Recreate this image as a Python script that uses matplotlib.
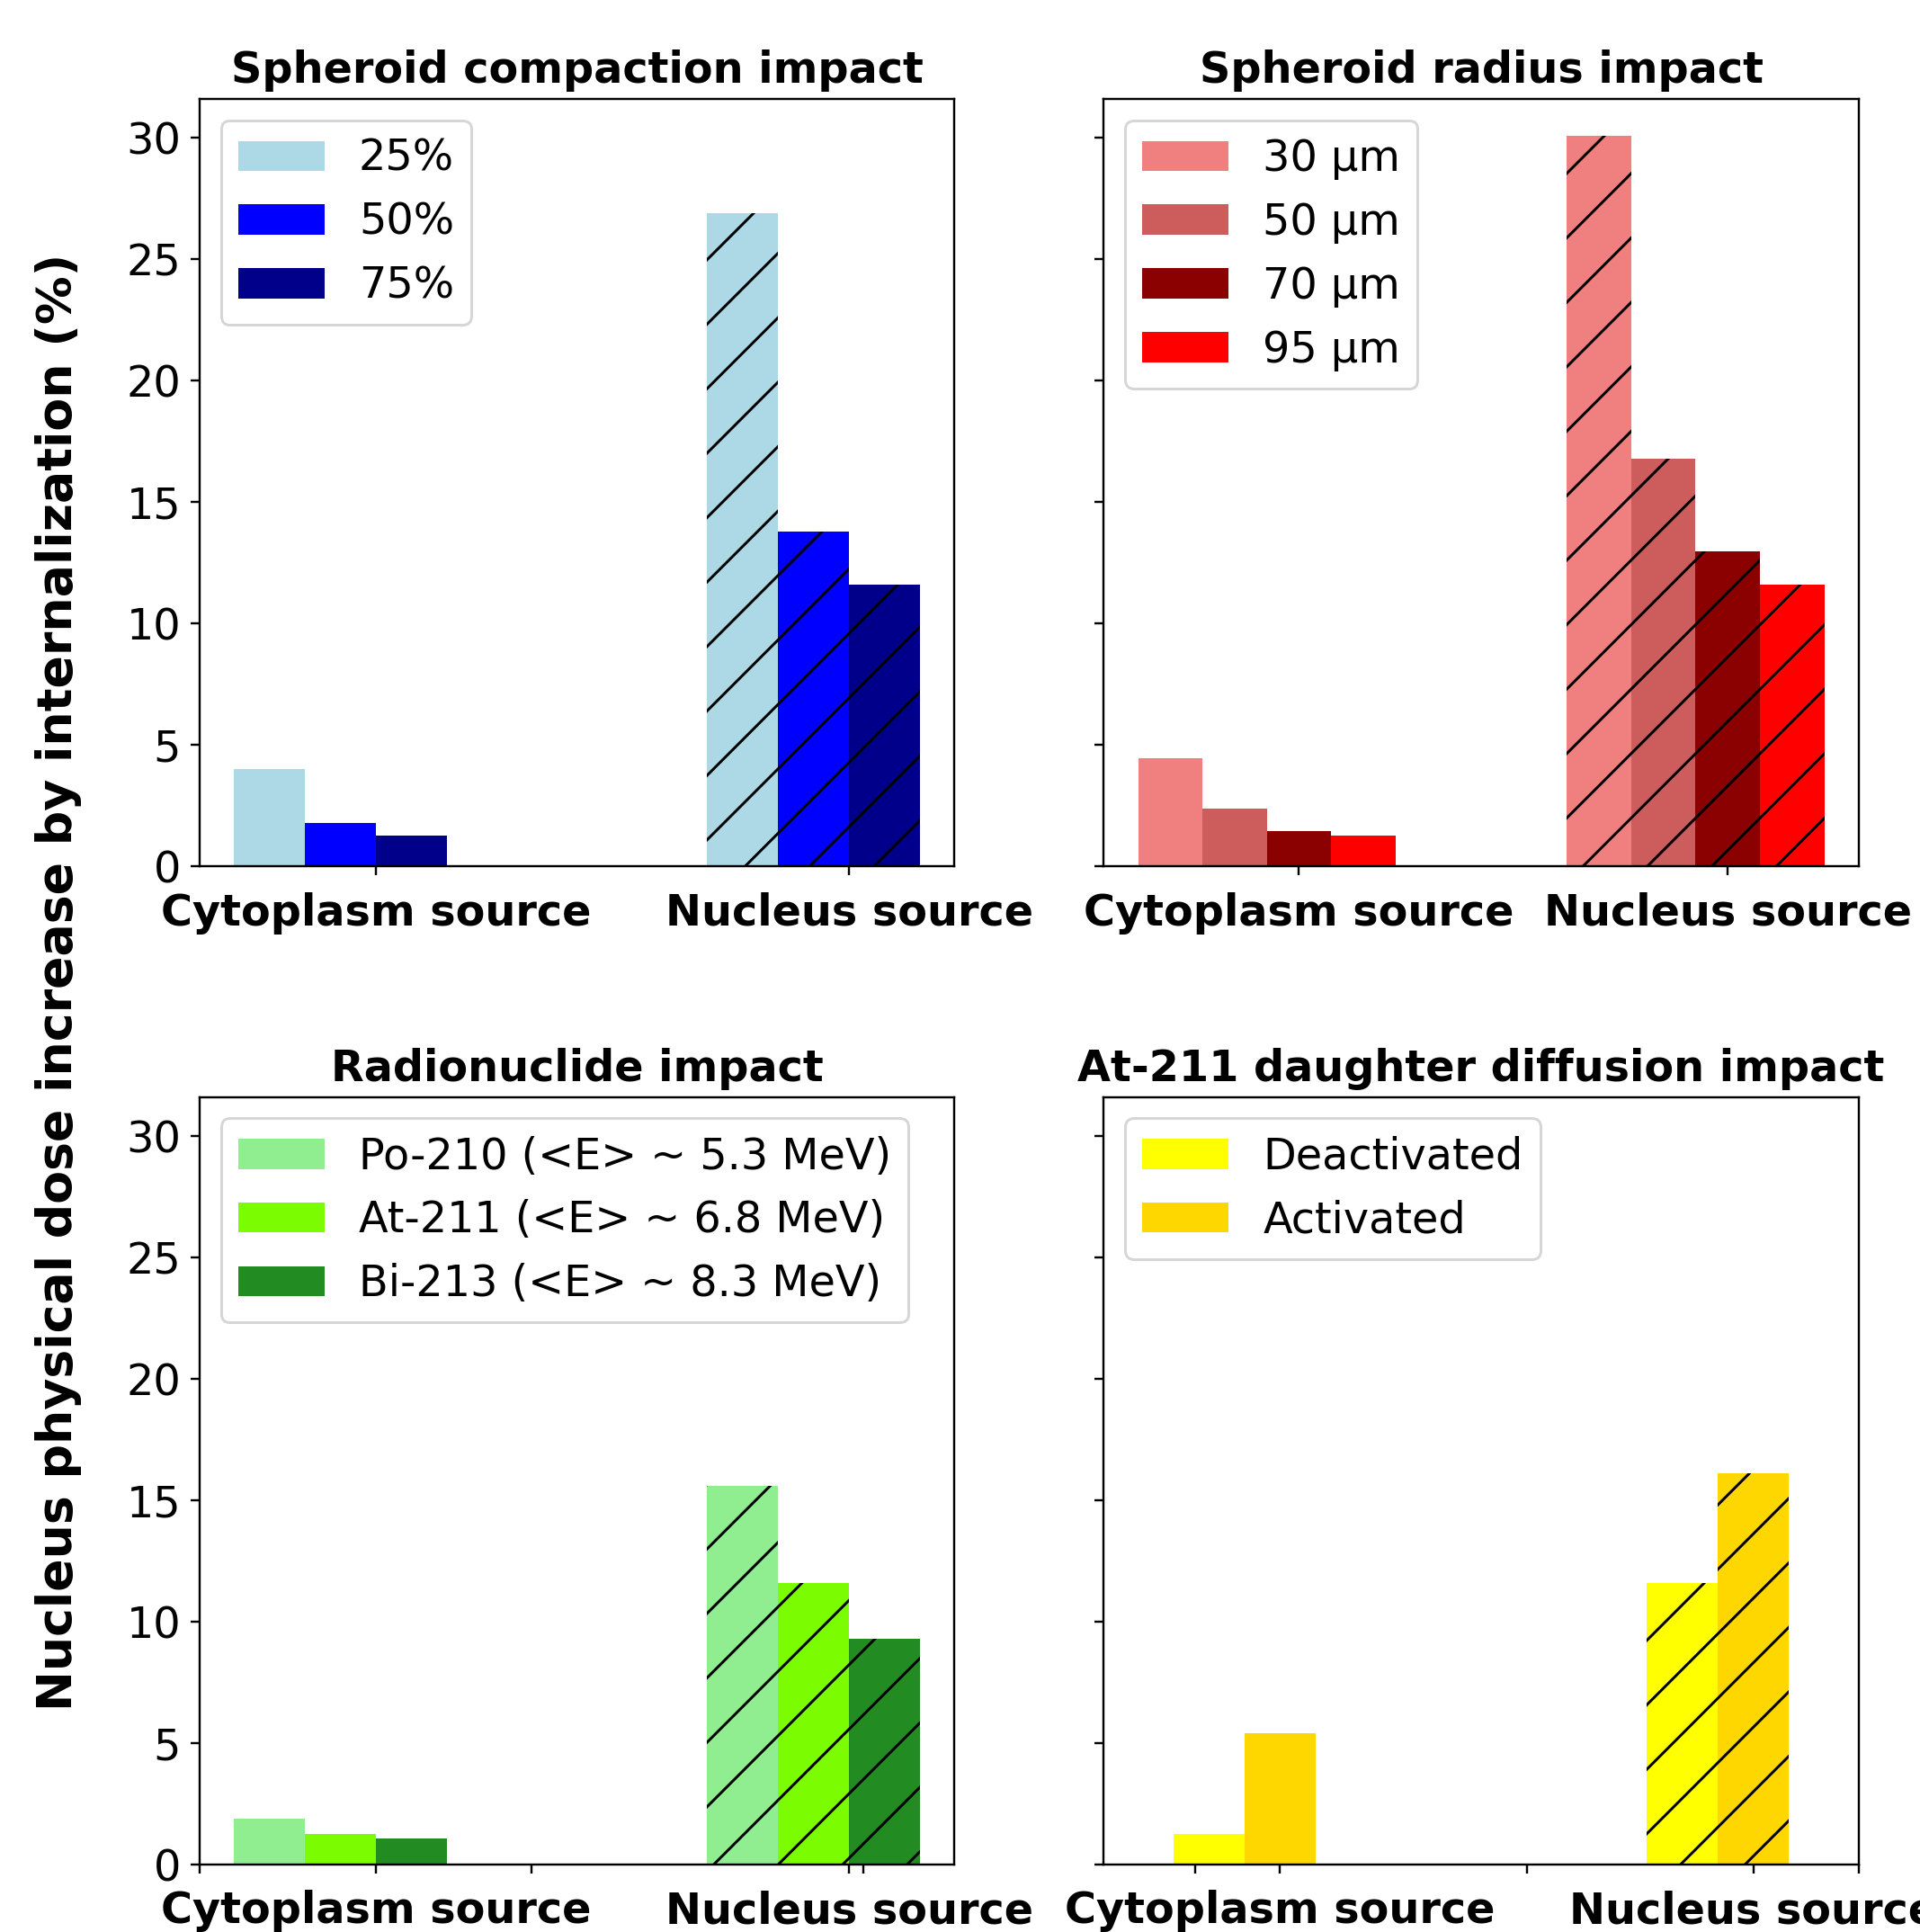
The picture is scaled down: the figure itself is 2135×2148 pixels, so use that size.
import numpy as np
import matplotlib.pyplot as plt

plt.rcParams['font.family'] = 'DejaVu Sans'
plt.rcParams['font.size'] = 16
plt.rcParams['axes.titlesize'] = 16
plt.rcParams['xtick.major.pad'] = 6
plt.rcParams['hatch.color'] = 'black'

groups = ['Cytoplasm source', 'Nucleus source']
width = 0.15

# Compaction du sphéroïde
compaction_labels = ['25%', '50%', '75%']
compaction_colors = ['lightblue', 'blue', 'darkblue']
compaction_cyto = [4.0, 1.78, 1.27]
compaction_nucleus = [26.9, 13.8, 11.6]

# Rayon du sphéroïde
radius_labels = ['30 µm', '50 µm', '70 µm', '95 µm']
radius_colors = ['lightcoral', 'indianred', 'darkred', 'red']
radius_cyto = [4.47, 2.38, 1.47, 1.27]
radius_nucleus = [30.1, 16.8, 12.97, 11.6]

# Radionucléide
nuclide_labels = ['Po-210 (<E> ~ 5.3 MeV)', 'At-211 (<E> ~ 6.8 MeV)', 'Bi-213 (<E> ~ 8.3 MeV)']
nuclide_colors = ['lightgreen', 'lawngreen', 'forestgreen']
nuclide_cyto = [1.88, 1.27, 1.07]
nuclide_nucleus = [15.6, 11.6, 9.3]

# Diffusion des descendants de l'At-211
diffusion_labels = ['Deactivated', 'Activated']
diffusion_colors = ['yellow', 'gold']
diffusion_cyto = [1.27, 5.39]
diffusion_nucleus = [11.6, 16.1]


def draw_panel(ax, title, labels, colors, cyto, nucleus):
    x = np.arange(len(groups))
    n = len(labels)
    for i in range(n):
        offset = (i - n / 2) * width
        ax.bar(x[0] + offset, cyto[i], width, color=colors[i], label=labels[i])
        ax.bar(x[1] + offset, nucleus[i], width, color=colors[i], hatch='/')
    ax.set_title(title, fontweight='bold')
    ax.set_xticks(x, groups, fontweight='bold')
    ax.legend(loc='upper left')


fig, axes = plt.subplots(2, 2, sharey=True, figsize=(2135 / 215, 2148 / 215), dpi=215)
plt.subplots_adjust(left=0.104, right=0.968, top=0.9488, bottom=0.0349, wspace=0.198, hspace=0.30)

draw_panel(axes[0, 0], 'Spheroid compaction impact', compaction_labels, compaction_colors,
           compaction_cyto, compaction_nucleus)
draw_panel(axes[0, 1], 'Spheroid radius impact', radius_labels, radius_colors,
           radius_cyto, radius_nucleus)
draw_panel(axes[1, 0], 'Radionuclide impact', nuclide_labels, nuclide_colors,
           nuclide_cyto, nuclide_nucleus)
draw_panel(axes[1, 1], 'At-211 daughter diffusion impact', diffusion_labels, diffusion_colors,
           diffusion_cyto, diffusion_nucleus)
axes[1, 1].set_xlim(axes[1, 0].get_xlim())

# Axe invisible pour le titre commun de l'axe y
big = fig.add_subplot(111, frameon=False)
big.tick_params(labelleft=False, labelbottom=False, top=False, left=False, right=False)
big.set_ylabel('Nucleus physical dose increase by internalization (%)',
               fontweight='bold', fontsize=18, labelpad=44)

plt.savefig('out.png', dpi=215)
